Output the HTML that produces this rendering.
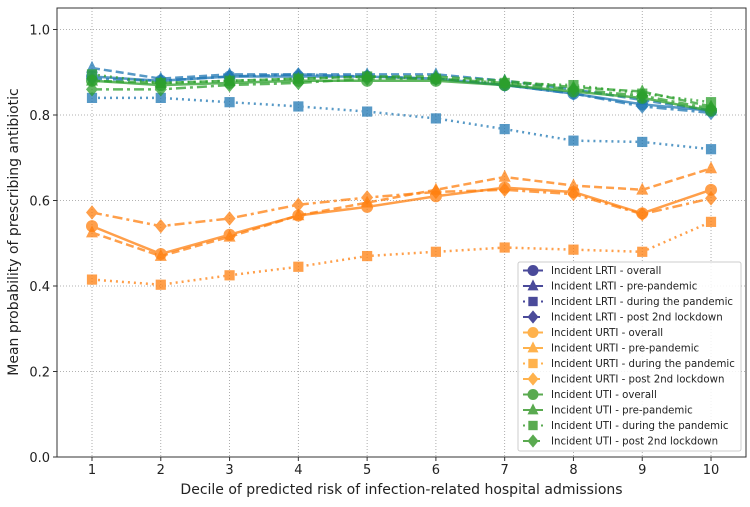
<!DOCTYPE html>
<html><head><meta charset="utf-8"><style>
body{margin:0;background:#fff;font-family:"Liberation Sans","DejaVu Sans",sans-serif}
svg text{font-family:"DejaVu Sans","Liberation Sans",sans-serif}
</style></head><body>
<svg id="c" width="750" height="502"></svg>
<script>
const deciles=[1,2,3,4,5,6,7,8,9,10];
const yTicks=[0.0,0.2,0.4,0.6,0.8,1.0];
const lrtiOverall=[0.89,0.88,0.89,0.89,0.89,0.885,0.87,0.85,0.825,0.81];
const lrtiPre=[0.91,0.885,0.895,0.895,0.895,0.895,0.88,0.86,0.835,0.81];
const lrtiDuring=[0.84,0.84,0.83,0.82,0.808,0.792,0.767,0.74,0.737,0.72];
const lrtiPost=[0.885,0.88,0.89,0.895,0.89,0.885,0.87,0.85,0.82,0.805];
const urtiOverall=[0.54,0.475,0.52,0.565,0.585,0.61,0.63,0.62,0.57,0.625];
const urtiPre=[0.525,0.47,0.515,0.565,0.595,0.625,0.655,0.635,0.625,0.675];
const urtiDuring=[0.415,0.403,0.425,0.445,0.47,0.48,0.49,0.485,0.48,0.55];
const urtiPost=[0.572,0.54,0.558,0.59,0.607,0.62,0.625,0.615,0.568,0.605];
const utiOverall=[0.88,0.87,0.875,0.88,0.88,0.88,0.87,0.855,0.84,0.81];
const utiPre=[0.88,0.875,0.88,0.885,0.89,0.89,0.88,0.865,0.855,0.82];
const utiDuring=[0.895,0.875,0.88,0.885,0.89,0.885,0.875,0.87,0.85,0.83];
const utiPost=[0.86,0.86,0.87,0.875,0.885,0.885,0.875,0.86,0.845,0.815];

const NS="http://www.w3.org/2000/svg";
const svg=document.getElementById('c');
function el(t,a,p){const e=document.createElementNS(NS,t);for(const k in a)e.setAttribute(k,a[k]);(p||svg).appendChild(e);return e;}
const L=57,R=746,T=8,B=457;
const x=v=>92+(v-1)*68.78;
const y=v=>457-v*427.5;
const grid=el('g',{});

deciles.forEach(d=>{el('line',{x1:x(d),x2:x(d),y1:T,y2:B,stroke:'#999','stroke-dasharray':'1,2','stroke-width':0.8},grid);
 const t=el('text',{x:x(d),y:474,'font-size':13,'text-anchor':'middle',fill:'#222'});t.textContent=d;
 
 el('line',{x1:x(d),x2:x(d),y1:B,y2:B+4,stroke:'#333'});});
yTicks.forEach(v=>{el('line',{x1:L,x2:R,y1:y(v),y2:y(v),stroke:'#999','stroke-dasharray':'1,2','stroke-width':0.8},grid);
 const t=el('text',{x:50,y:y(v)+5,'font-size':13,'text-anchor':'end',fill:'#222'});t.textContent=v.toFixed(1);
 
 el('line',{x1:L-4,x2:L,y1:y(v),y2:y(v),stroke:'#333'});});
const fr=el('rect',{x:L,y:T,width:R-L,height:B-T,fill:'none',stroke:'#333','stroke-width':1});

const xl=el('text',{x:(L+R)/2,y:494,'font-size':14,'text-anchor':'middle',fill:'#222'});xl.textContent='Decile of predicted risk of infection-related hospital admissions';

const yl=el('text',{x:0,y:0,'font-size':14,'text-anchor':'middle',fill:'#222',transform:'translate(18,232) rotate(-90)'});yl.textContent='Mean probability of prescribing antibiotic';


const dash={solid:'',pre:'8,4',during:'2,4',post:'10,4,3,4'};
function marker(g,m,cx,cy,c,s){
 if(m==='o')return el('circle',{cx,cy,r:s,fill:c},g);
 if(m==='^')return el('polygon',{points:`${cx},${cy-s*1.2} ${cx-s},${cy+s*0.8} ${cx+s},${cy+s*0.8}`,fill:c},g);
 if(m==='s')return el('rect',{x:cx-s*0.85,y:cy-s*0.85,width:s*1.7,height:s*1.7,fill:c},g);
 return el('polygon',{points:`${cx},${cy-s*1.2} ${cx+s},${cy} ${cx},${cy+s*1.2} ${cx-s},${cy}`,fill:c},g);
}
const series=[
 ['lrti-overall',lrtiOverall,'#1f77b4','solid','o'],['lrti-pre',lrtiPre,'#1f77b4','pre','^'],
 ['lrti-during',lrtiDuring,'#1f77b4','during','s'],['lrti-post',lrtiPost,'#1f77b4','post','D'],
 ['urti-overall',urtiOverall,'#ff7f0e','solid','o'],['urti-pre',urtiPre,'#ff7f0e','pre','^'],
 ['urti-during',urtiDuring,'#ff7f0e','during','s'],['urti-post',urtiPost,'#ff7f0e','post','D'],
 ['uti-overall',utiOverall,'#2ca02c','solid','o'],['uti-pre',utiPre,'#2ca02c','pre','^'],
 ['uti-during',utiDuring,'#2ca02c','during','s'],['uti-post',utiPost,'#2ca02c','post','D']];
series.forEach(([n,vals,c,st,m])=>{
 const g=el('g',{opacity:0.75});
 
 const p=el('polyline',{points:vals.map((v,i)=>x(deciles[i])+','+y(v)).join(' '),fill:'none',stroke:c,'stroke-width':2.5,'stroke-dasharray':dash[st]},g);
 
 vals.forEach((v,i)=>{const mk=marker(g,m,x(deciles[i]),y(v),c,6);
  });
});
const lg=el('g',{});

el('rect',{x:518,y:262,width:223,height:189,fill:'#fff','fill-opacity':0.85,stroke:'#ccc',rx:2},lg);
const labels=['Incident LRTI - overall','Incident LRTI - pre-pandemic','Incident LRTI - during the pandemic','Incident LRTI - post 2nd lockdown',
'Incident URTI - overall','Incident URTI - pre-pandemic','Incident URTI - during the pandemic','Incident URTI - post 2nd lockdown',
'Incident UTI - overall','Incident UTI - pre-pandemic','Incident UTI - during the pandemic','Incident UTI - post 2nd lockdown'];
const lcol=['#4a4a9a','#ffb24d','#5aaa50'];
labels.forEach((lab,i)=>{
 const cy=270.5+i*15.5;const c=lcol[Math.floor(i/4)];const s=series[i];
 const e=el('g',{},lg);
 
 el('line',{x1:523,x2:543,y1:cy,y2:cy,stroke:c,'stroke-width':2,'stroke-dasharray':dash[s[3]]},e);
 marker(e,s[4],533,cy,c,5.5);
 const t=el('text',{x:551,y:cy+3.5,'font-size':10.2,fill:'#222'},e);t.textContent=lab;
});
</script>
</body></html>
